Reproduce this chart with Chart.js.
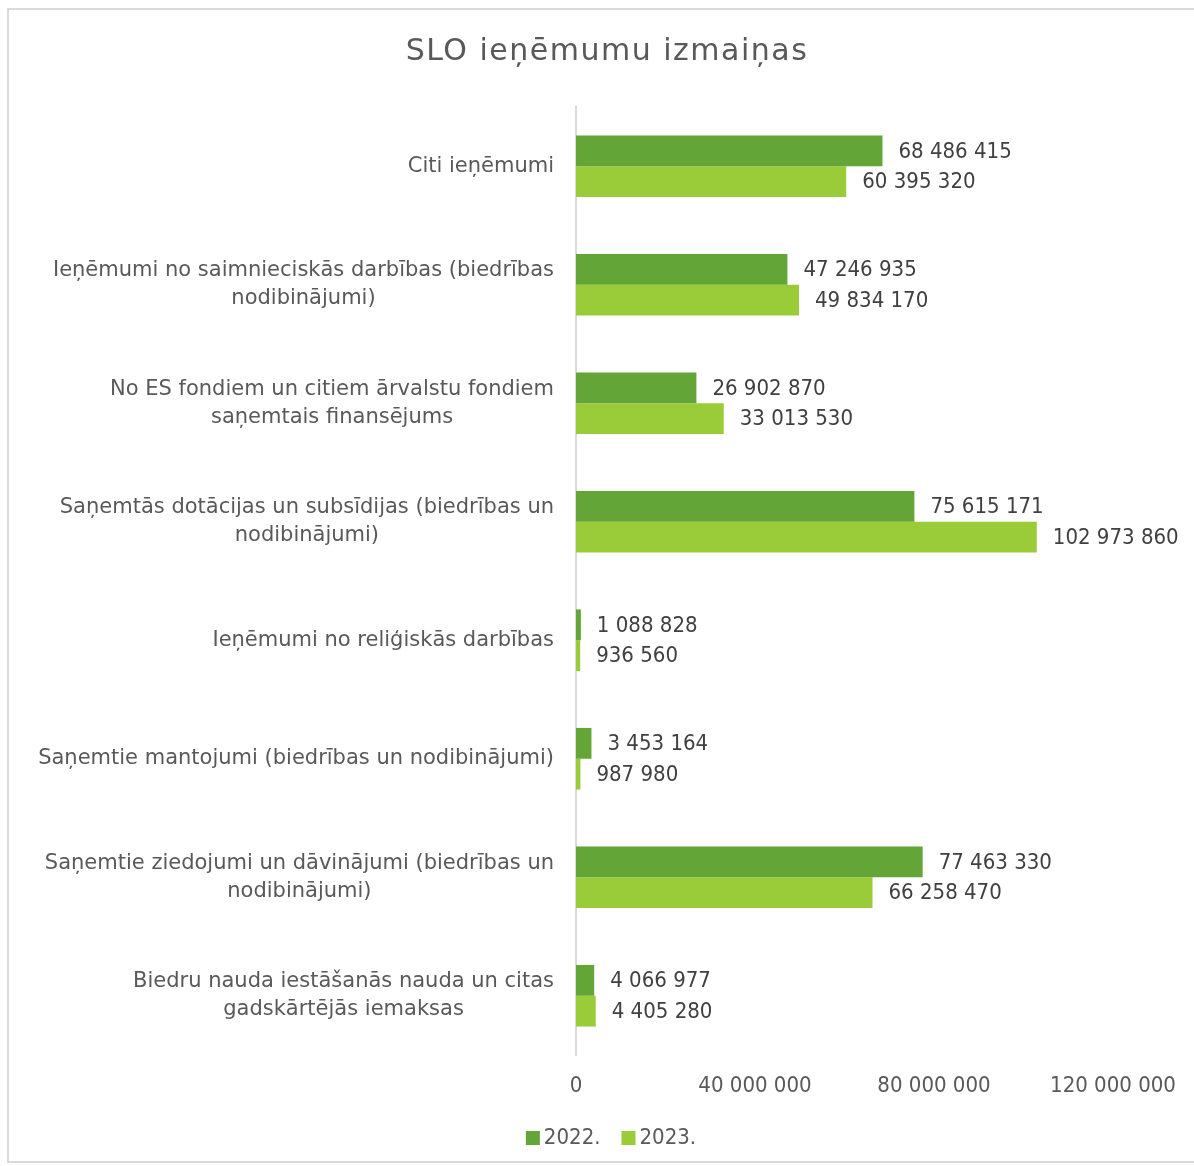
<!DOCTYPE html>
<html>
<head>
<meta charset="utf-8">
<script src="https://cdn.jsdelivr.net/npm/chart.js@4/dist/chart.umd.min.js"></script>
<style>
  html, body { margin: 0; padding: 0; background: #fff; }
  #wrap { position: relative; width: 1194px; height: 1166px; }
  #frame { position: absolute; left: 7px; top: 8px; width: 1200px; height: 1155px; border: 2px solid #d9d9d9; box-sizing: border-box; }
  canvas { position: absolute; left: 0; top: 0; }
</style>
</head>
<body>
<div id="wrap">
  <div id="frame"></div>
  <canvas id="c" width="1194" height="1166"></canvas>
</div>
<script>
const chartTitle = "SLO ieņēmumu izmaiņas";
const categories = [
  ["Citi ieņēmumi"],
  ["Ieņēmumi no saimnieciskās darbības (biedrības", "nodibinājumi)"],
  ["No ES fondiem un citiem ārvalstu fondiem", "saņemtais finansējums"],
  ["Saņemtās dotācijas un subsīdijas (biedrības un", "nodibinājumi)"],
  ["Ieņēmumi no reliģiskās darbības"],
  ["Saņemtie mantojumi (biedrības un nodibinājumi)"],
  ["Saņemtie ziedojumi un dāvinājumi (biedrības un", "nodibinājumi)"],
  ["Biedru nauda iestāšanās nauda un citas", "gadskārtējās iemaksas"]
];
const series2022 = [68486415, 47246935, 26902870, 75615171, 1088828, 3453164, 77463330, 4066977];
const series2023 = [60395320, 49834170, 33013530, 102973860, 936560, 987980, 66258470, 4405280];
const seriesNames = ["2022.", "2023."];
const xTicks = [0, 40000000, 80000000, 120000000];

const SANS = "'DejaVu Sans', sans-serif";
const COND = "'DejaVu Sans Condensed', 'DejaVu Sans', sans-serif";
const AXIS_COLOR = "#595959";
const LABEL_COLOR = "#404040";
const C1 = "#63a537";
const C2 = "#9acb38";

function fmt(v) {
  return String(v).replace(/\B(?=(\d{3})+(?!\d))/g, " ");
}

const customDraw = {
  id: "customDraw",
  afterDatasetsDraw(chart) {
    const ctx = chart.ctx;
    const y = chart.scales.y;
    const x = chart.scales.x;
    const area = chart.chartArea;
    ctx.save();
    ctx.textBaseline = "middle";

    // title
    ctx.font = "30px " + SANS;
    ctx.letterSpacing = "1.5px";
    ctx.fillStyle = AXIS_COLOR;
    ctx.textAlign = "left";
    const tw = ctx.measureText(chartTitle).width;
    ctx.fillText(chartTitle, 607 - tw / 2, 52);
    ctx.letterSpacing = "0px";

    // y category labels: block right aligned, lines centered
    ctx.font = "21px " + SANS;
    ctx.fillStyle = AXIS_COLOR;
    ctx.textAlign = "center";
    const rightEdge = area.left - 22;
    const lh = 28;
    categories.forEach((lines, i) => {
      const cy = y.getPixelForTick(i);
      const maxW = Math.max(...lines.map(l => ctx.measureText(l).width));
      const cx = rightEdge - maxW / 2;
      const startY = cy - (lines.length - 1) * lh / 2;
      lines.forEach((l, j) => ctx.fillText(l, cx, startY + j * lh));
    });

    // x tick labels
    ctx.font = "22px " + COND;
    ctx.fillStyle = AXIS_COLOR;
    ctx.textAlign = "center";
    xTicks.forEach(v => ctx.fillText(fmt(v), x.getPixelForValue(v), area.bottom + 31));

    // data labels
    ctx.font = "22px " + COND;
    ctx.fillStyle = LABEL_COLOR;
    ctx.textAlign = "left";
    chart.data.datasets.forEach((ds, di) => {
      const meta = chart.getDatasetMeta(di);
      meta.data.forEach((bar, i) => {
        ctx.fillText(fmt(ds.data[i]), bar.x + 16, bar.y + 1);
      });
    });

    // legend
    ctx.font = "22px " + COND;
    const ly = 1138;
    const items = chart.data.datasets.map(d => ({ text: d.label, color: d.backgroundColor }));
    const box = 14, gap = 4, itemGap = 21;
    const widths = items.map(it => box + gap + ctx.measureText(it.text).width);
    const total = widths.reduce((a, b) => a + b, 0) + itemGap * (items.length - 1);
    let lx = 611 - total / 2;
    items.forEach((it, k) => {
      ctx.fillStyle = it.color;
      ctx.fillRect(lx, ly - box / 2, box, box);
      ctx.fillStyle = AXIS_COLOR;
      ctx.fillText(it.text, lx + box + gap, ly);
      lx += widths[k] + itemGap;
    });
    ctx.restore();
  }
};

new Chart(document.getElementById("c"), {
  type: "bar",
  data: {
    labels: categories,
    datasets: [
      { label: seriesNames[0], data: series2022, backgroundColor: C1, categoryPercentage: 0.52, barPercentage: 1.0 },
      { label: seriesNames[1], data: series2023, backgroundColor: C2, categoryPercentage: 0.52, barPercentage: 1.0 }
    ]
  },
  options: {
    indexAxis: "y",
    responsive: false,
    animation: false,
    devicePixelRatio: 1,
    layout: { padding: { left: 0, right: 81, top: 107, bottom: 111 } },
    plugins: {
      legend: { display: false },
      tooltip: { enabled: false },
      title: { display: false }
    },
    scales: {
      x: {
        min: 0,
        max: 120000000,
        grid: { display: false, drawTicks: false },
        border: { display: false },
        ticks: { display: false }
      },
      y: {
        grid: { display: false, drawTicks: false },
        border: { display: true, color: "#d9d9d9", width: 2 },
        ticks: { display: false },
        afterFit: (s) => { s.width = 576; }
      }
    }
  },
  plugins: [customDraw]
});
</script>
</body>
</html>
